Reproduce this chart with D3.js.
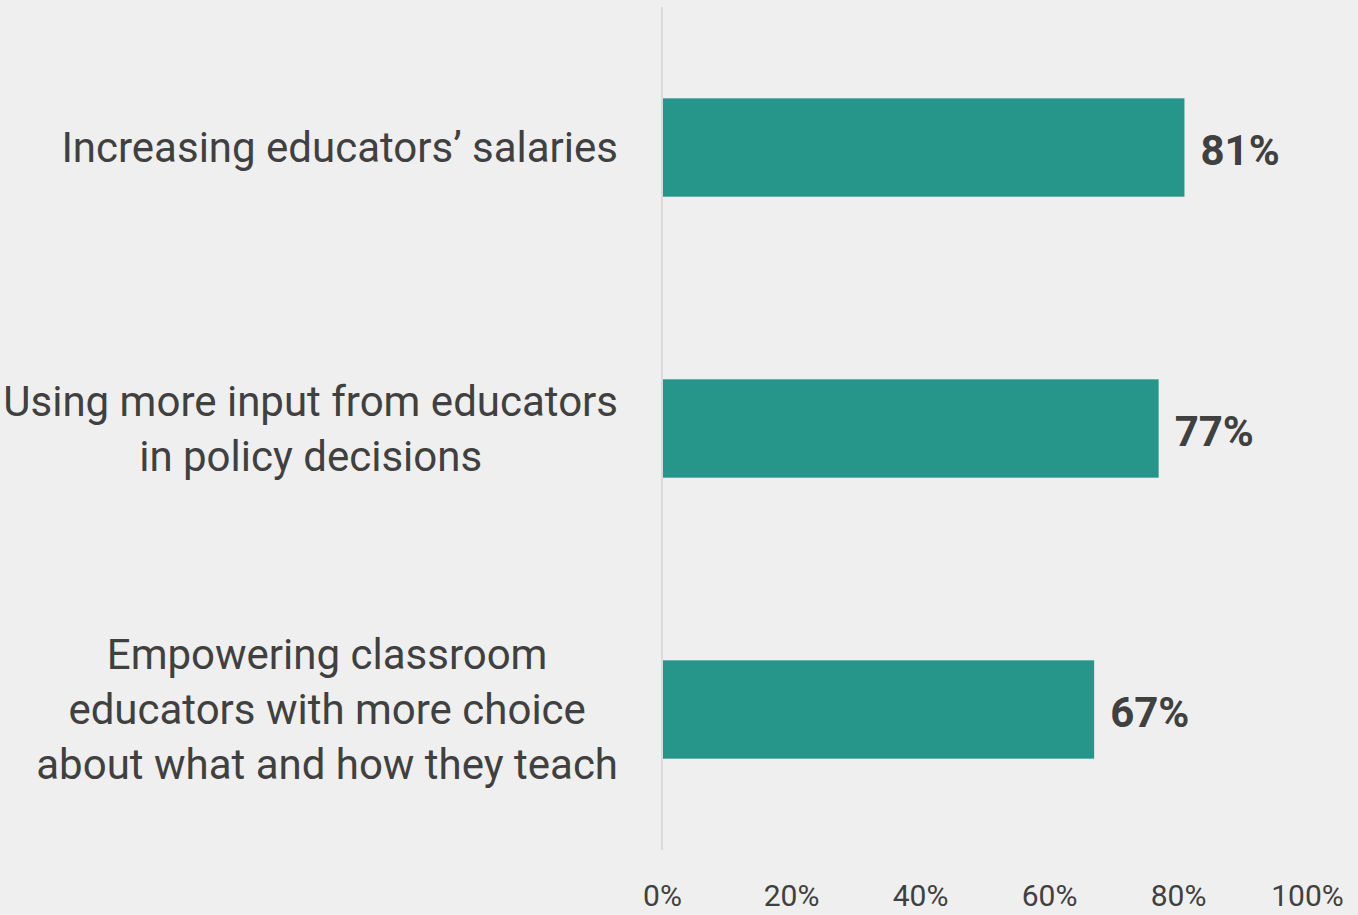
<!DOCTYPE html>
<html>
<head>
<meta charset="utf-8">
<script src="https://cdn.jsdelivr.net/npm/d3@7"></script>
<style>
  body { margin: 0; background: #efefef; }
  svg { display: block; font-family: Roboto, "Noto Sans", sans-serif; }
</style>
</head>
<body>
<div id="chart"></div>
<script>
// categories (one entry per line of the wrapped label)
const categories = [
    ["Increasing educators\u2019 salaries"],
    ["Using more input from educators", "in policy decisions"],
    ["Empowering classroom", "educators with more choice", "about what and how they teach"]
];
const values = [81, 77, 67];
const tickValues = [0, 20, 40, 60, 80, 100];

const width = 1358, height = 915;
const margin = { top: 7, right: 51, bottom: 65, left: 662 };

const svg = d3.select("#chart")
    .append("svg")
    .attr("width", width)
    .attr("height", height);

svg.append("rect")
    .attr("width", width)
    .attr("height", height)
    .attr("fill", "#efefef");

const data = categories.map((c, i) => ({ lines: c, value: values[i], key: "c" + i }));

const x = d3.scaleLinear()
    .domain([0, 100])
    .range([margin.left, width - margin.right]);

const y = d3.scaleBand()
    .domain(data.map(d => d.key))
    .range([margin.top, height - margin.bottom])
    .paddingInner(0.65)
    .paddingOuter(0.325);

// vertical baseline
svg.append("line")
    .attr("x1", x(0)).attr("x2", x(0))
    .attr("y1", margin.top).attr("y2", height - margin.bottom)
    .attr("stroke", "#d3d3d3")
    .attr("stroke-width", 1.5);

// bars
svg.selectAll(".bar")
    .data(data)
    .enter()
    .append("rect")
    .attr("class", "bar")
    .attr("x", x(0) + 1)
    .attr("y", d => y(d.key))
    .attr("width", d => x(d.value) - x(0) - 1)
    .attr("height", y.bandwidth())
    .attr("fill", "#26968a");

// value labels
svg.selectAll(".label")
    .data(data)
    .enter()
    .append("text")
    .attr("class", "label")
    .attr("x", d => x(d.value) + 16)
    .attr("y", d => y(d.key) + y.bandwidth() / 2 + 3)
    .attr("dy", "0.35em")
    .attr("font-size", "42px")
    .attr("font-weight", "bold")
    .attr("fill", "#404040")
    .text(d => d.value + "%");

// category labels, lines centred within a right-aligned block
const labelRight = 618, lineHeight = 55;
data.forEach(d => {
    const g = svg.append("g");
    const n = d.lines.length;
    const cy = y(d.key) + y.bandwidth() / 2;
    const texts = d.lines.map((line, i) => g.append("text")
        .attr("y", cy + (i - (n - 1) / 2) * lineHeight)
        .attr("dy", "0.35em")
        .attr("text-anchor", "middle")
        .attr("font-size", "42px")
        .attr("fill", "#404040")
        .text(line));
    const maxW = d3.max(texts, t => t.node().getComputedTextLength());
    texts.forEach(t => t.attr("x", labelRight - maxW / 2));
});

// x axis
const axis = svg.append("g")
    .attr("transform", `translate(0, ${height - 20})`)
    .call(d3.axisBottom(x).tickValues(tickValues).tickSize(0).tickPadding(0)
        .tickFormat(d => d + "%"));
axis.select(".domain").remove();
axis.selectAll("text")
    .attr("font-size", "30px")
    .attr("font-family", "Roboto, sans-serif")
    .attr("fill", "#404040")
    .attr("dy", "0.35em")
    .attr("y", 0);
</script>
</body>
</html>
